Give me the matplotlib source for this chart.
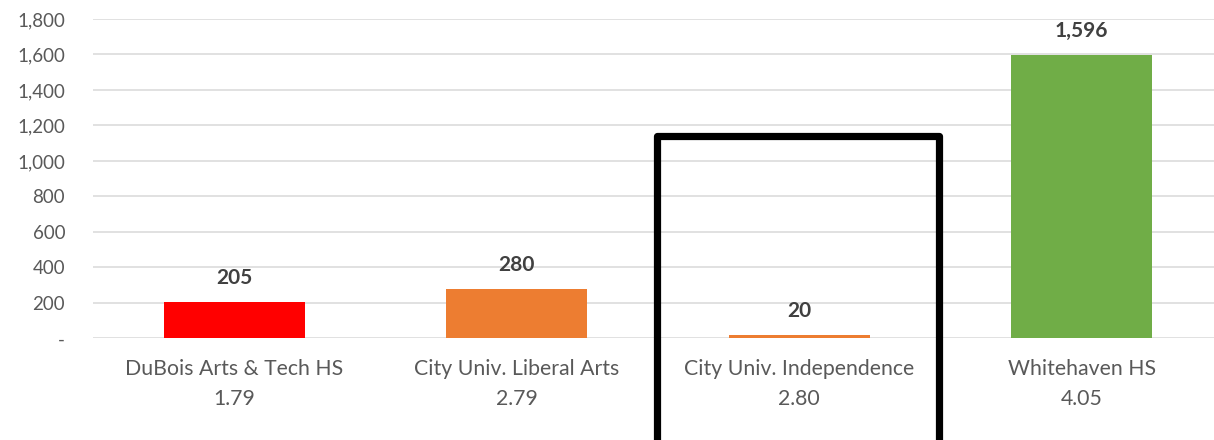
import matplotlib.pyplot as plt
from matplotlib.patches import Rectangle
from matplotlib.ticker import FuncFormatter
import matplotlib.transforms as mtransforms

schools = ["DuBois Arts & Tech HS", "City Univ. Liberal Arts",
           "City Univ. Independence", "Whitehaven HS"]
scores = ["1.79", "2.79", "2.80", "4.05"]
enrollment = [205, 280, 20, 1596]
bar_colors = ["#FF0000", "#ED7D31", "#ED7D31", "#70AD47"]
highlight = 2  # index of the boxed school

plt.rcParams['font.family'] = ['Lato', 'DejaVu Sans']

W, H = 1214, 440
fig = plt.figure(figsize=(W / 100, H / 100), dpi=100)
ax = fig.add_axes([93 / W, 101.7 / H, (W - 93) / W, (421 - 101.7) / H])

x = range(len(schools))
ax.bar(x, enrollment, width=0.5, color=bar_colors, zorder=2)

for i, v in enumerate(enrollment):
    ax.annotate(f"{v:,}", (i, v), xytext=(0, 10), textcoords="offset points",
                ha="center", va="bottom", fontsize=15, fontweight="bold",
                color="#404040")

ax.set_xlim(-0.5, -0.5 + (W - 93) / 282.5)
ax.set_ylim(0, 1800)
ax.set_yticks(range(0, 1801, 200))
ax.yaxis.set_major_formatter(FuncFormatter(lambda v, p: "-" if v == 0 else f"{int(v):,}"))
ax.set_xticks(list(x))
ax.set_xticklabels([f"{s}\n{g}" for s, g in zip(schools, scores)], linespacing=1.6)

ax.tick_params(axis="both", length=0, labelcolor="#595959")
ax.tick_params(axis="y", pad=20, labelsize=13.5)
ax.tick_params(axis="x", pad=15, labelsize=15.3)
ax.grid(axis="y", color="#D9D9D9", linewidth=1.1, zorder=0)
for s in ax.spines.values():
    s.set_visible(False)
ax.set_axisbelow(True)

# black frame around the highlighted school, running off the bottom edge
trans = mtransforms.blended_transform_factory(ax.transData, fig.transFigure)
box = Rectangle((highlight - 0.502, -0.1), 0.995, 1.1 - 136 / H,
                transform=trans, fill=False, edgecolor="black",
                linewidth=5.2, joinstyle="round", clip_on=False, zorder=5)
fig.add_artist(box)

fig.savefig("out.png", dpi=100)
